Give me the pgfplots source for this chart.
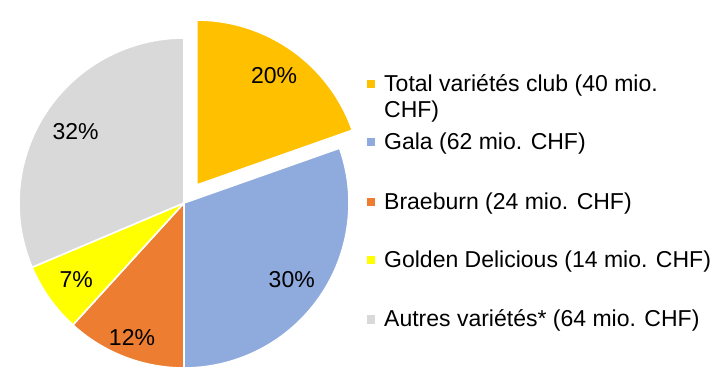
\documentclass[border=0pt]{standalone}
\usepackage{pgfplots}
\usepackage{pgfplotstable}
\pgfplotsset{compat=1.18}
\usetikzlibrary{calc}
\usepackage{fontspec}
\setmainfont{Liberation Sans}
\definecolor{cGold}{HTML}{FFC000}
\definecolor{cBlue}{HTML}{8FAADC}
\definecolor{cOrange}{HTML}{ED7D31}
\definecolor{cYellow}{HTML}{FFFF00}
\definecolor{cGray}{HTML}{D9D9D9}

% value (mio. CHF), shown percent, label radius, explode offset, colour
\pgfplotstableread{
value pct labr explode color
40 20 134 22 cGold
62 30 132 0 cBlue
24 12 144 0 cOrange
14 7 132 0 cYellow
64 32 130 0 cGray
}\piedata

\begin{document}
\begin{tikzpicture}
\path[use as bounding box] (0,0) rectangle (722pt,380pt);
\begin{axis}[hide axis, scale only axis, width=722pt, height=380pt,
  xmin=0, xmax=722, ymin=0, ymax=380, clip=false,
  at={(0,0)}, anchor=south west]
\pgfplotsextra{
  \gdef\pietotal{0}
  \foreach \i in {0,...,4}{%
    \pgfplotstablegetelem{\i}{value}\of\piedata
    \pgfmathsetmacro\tmp{\pietotal+\pgfplotsretval}%
    \xdef\pietotal{\tmp}%
  }
  \gdef\startang{90}
  \foreach \i in {0,...,4}{%
    \pgfplotstablegetelem{\i}{value}\of\piedata \let\v\pgfplotsretval
    \pgfplotstablegetelem{\i}{pct}\of\piedata \let\p\pgfplotsretval
    \pgfplotstablegetelem{\i}{labr}\of\piedata \let\lr\pgfplotsretval
    \pgfplotstablegetelem{\i}{explode}\of\piedata \let\ex\pgfplotsretval
    \pgfplotstablegetelem{\i}{color}\of\piedata \let\c\pgfplotsretval
    \pgfmathsetmacro\endang{\startang-\v/\pietotal*360}%
    \pgfmathsetmacro\midang{(\startang+\endang)/2}%
    \begin{scope}[shift={(\midang:\ex pt)}]
      \fill[fill=\c, draw=white, line width=1.6pt, line join=round]
        (axis cs:184,177) -- ++(\startang:165pt)
        arc[start angle=\startang, end angle=\endang, radius=165pt] -- cycle;
      \node[font=\fontsize{23}{26}\selectfont, inner sep=0pt]
        at ($(axis cs:184,177)+(\midang:\lr pt)$) {\p\%};
    \end{scope}
    \xdef\startang{\endang}%
  }
}
% legend
\pgfplotsextra{
  \foreach \i/\yb in {0/288,1/230,2/170,3/112,4/53}{%
    \pgfplotstablegetelem{\i}{color}\of\piedata \let\c\pgfplotsretval
    \fill[fill=\c] (axis cs:367,\yb+3.5) rectangle (axis cs:375,\yb+11.5);
  }
  \begin{scope}[every node/.style={anchor=base west, inner sep=0pt,
      font=\fontsize{23}{26}\selectfont}]
    \node at (axis cs:384,288) {Total variétés club (40 mio.};
    \node at (axis cs:384,262) {CHF)};
    \node at (axis cs:384,230) {Gala (62 mio. CHF)};
    \node at (axis cs:384,170) {Braeburn (24 mio. CHF)};
    \node at (axis cs:384,112) {Golden Delicious (14 mio. CHF)};
    \node at (axis cs:384,53) {Autres variétés* (64 mio. CHF)};
  \end{scope}
}
\end{axis}
\end{tikzpicture}
\end{document}
